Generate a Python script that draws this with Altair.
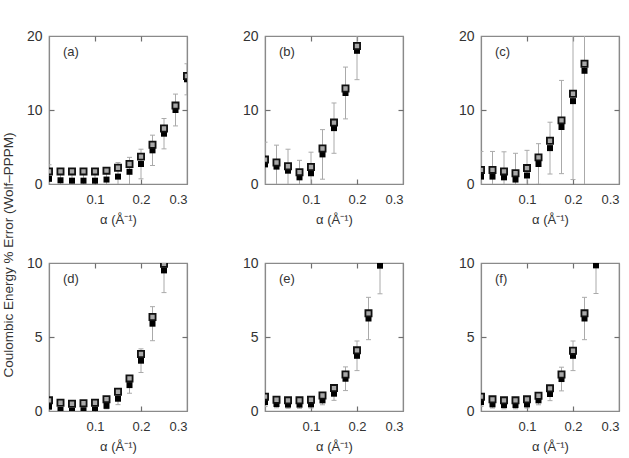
import altair as alt
import pandas as pd

FONT = "Liberation Sans"
TXT = "#333333"
FRAME = "#8a8a8a"

alpha_all = [0.0, 0.025, 0.05, 0.075, 0.1, 0.125, 0.15, 0.175, 0.2, 0.225, 0.25, 0.275, 0.3]

a_filled = [0.7, 0.5, 0.45, 0.45, 0.45, 0.6, 1.0, 1.65, 2.7, 4.55, 6.8, 10.0, 14.15]
a_open = [1.7, 1.7, 1.7, 1.7, 1.7, 1.8, 2.2, 2.7, 3.7, 5.3, 7.5, 10.6, 14.6]
a_err = [1.9, 1.2, 1.2, 1.2, 1.2, 1.3, 1.9, 1.95, 2.0, 2.05, 2.05, 2.15, 2.1]

b_filled = [2.65, 2.35, 1.8, 0.9, 1.45, 4.0, 7.55, 12.3, 18.0]
b_open = [3.3, 2.9, 2.4, 1.6, 2.3, 4.8, 8.3, 12.9, 18.65]
b_err = [3.0, 2.9, 2.9, 2.3, 2.85, 3.35, 3.4, 3.5, 3.9]

c_filled = [1.0, 1.0, 0.9, 0.6, 1.15, 2.7, 4.85, 7.7, 11.2, 15.3]
c_open = [1.9, 1.9, 1.7, 1.45, 2.15, 3.6, 5.85, 8.6, 12.2, 16.25]
c_err = [3.4, 3.4, 3.45, 3.55, 3.4, 2.75, 3.5, 6.3, 10.6, 16.0]

d_filled = [0.3, 0.07, 0.02, 0.05, 0.1, 0.35, 0.83, 1.75, 3.4, 5.9, 9.5]
d_open = [0.72, 0.56, 0.49, 0.52, 0.56, 0.8, 1.3, 2.2, 3.85, 6.35, 9.95]
d_err = [0.2, 0.15, 0.15, 0.15, 0.15, 0.2, 0.4, 0.55, 0.8, 1.15, 1.5]

e_filled = [0.6, 0.47, 0.43, 0.43, 0.45, 0.72, 1.17, 2.18, 3.73, 6.25, 9.82]
e_open = [0.97, 0.76, 0.72, 0.72, 0.76, 1.05, 1.55, 2.47, 4.1, 6.6, None]
e_err = [0.3, 0.25, 0.25, 0.25, 0.25, 0.3, 0.45, 0.8, 1.0, 1.43, 1.9]

f_filled = [0.6, 0.45, 0.4, 0.4, 0.45, 0.72, 1.15, 2.16, 3.73, 6.25, 9.84]
f_open = [0.97, 0.79, 0.72, 0.72, 0.79, 1.03, 1.53, 2.47, 4.07, 6.6, None]
f_err = [0.3, 0.25, 0.25, 0.25, 0.25, 0.3, 0.45, 0.8, 1.0, 1.43, 1.9]

x_tick_labels = [0.1, 0.2, 0.3]
x_inner_ticks = [0.1, 0.2]
top_y_ticks = [0, 10, 20]
bottom_y_ticks = [0, 5, 10]

W, H = 138, 148


def panel(label, filled, opened, err, ymax, yticks):
    n = len(filled)
    df = pd.DataFrame({
        "alpha": alpha_all[:n],
        "filled": filled,
        "open": opened,
        "lo": [f - e for f, e in zip(filled, err)],
        "hi": [f + e for f, e in zip(filled, err)],
    })
    xs = alt.Scale(domain=[0, 0.3], nice=False, zero=False)
    ys = alt.Scale(domain=[0, ymax], nice=False, zero=False)
    mid = [t for t in yticks if 0 < t < ymax]

    main_x = alt.Axis(values=x_tick_labels, format=".1f", tickSize=0, ticks=False,
                      domain=True, domainColor=FRAME, domainWidth=1.2, grid=False,
                      labelPadding=9, title="α (Å⁻¹)", titleFont=FONT, titleFontSize=13,
                      titleFontWeight="normal", titleColor=TXT, titlePadding=7,
                      labelFont=FONT, labelFontSize=13, labelColor=TXT)
    main_y = alt.Axis(values=yticks, format="d", tickSize=0, ticks=False,
                      domain=True, domainColor=FRAME, domainWidth=1.2, grid=False,
                      labelPadding=7, title=None, labelFont=FONT, labelFontSize=14, labelColor=TXT)

    def frame_axis(orient):
        return alt.Axis(orient=orient, domain=True, domainColor=FRAME, domainWidth=1.2,
                        ticks=False, labels=False, grid=False, title=None)

    def tick_axis(orient, vals):
        return alt.Axis(orient=orient, offset=-5, tickSize=5, values=vals, labels=False,
                        domain=False, grid=False, title=None, tickColor="#6f6f6f", tickWidth=1.2)

    bars = alt.Chart(df).mark_rule(color="#aaaaaa", strokeWidth=1, clip=True).encode(
        x=alt.X("alpha:Q", scale=xs, axis=main_x),
        y=alt.Y("lo:Q", scale=ys, axis=main_y),
        y2="hi:Q",
    )
    cap_lo = alt.Chart(df).mark_tick(orient="horizontal", size=5, thickness=1, color="#aaaaaa",
                                     clip=True, opacity=1).encode(
        x=alt.X("alpha:Q", scale=xs, axis=frame_axis("top")),
        y=alt.Y("lo:Q", scale=ys, axis=frame_axis("right")),
    )
    cap_hi = alt.Chart(df).mark_tick(orient="horizontal", size=5, thickness=1, color="#aaaaaa",
                                     clip=True, opacity=1).encode(
        x=alt.X("alpha:Q", scale=xs, axis=None),
        y=alt.Y("hi:Q", scale=ys, axis=None),
    )
    fpts = alt.Chart(df).mark_square(size=36, color="black", opacity=1, clip=True).encode(
        x=alt.X("alpha:Q", scale=xs, axis=tick_axis("bottom", x_inner_ticks)),
        y=alt.Y("filled:Q", scale=ys, axis=tick_axis("left", mid)),
    )
    opts = alt.Chart(df).transform_filter("isValid(datum.open)").mark_square(
        size=38, fill="#a8a8a8", stroke="#111111", strokeWidth=1.8, opacity=1, clip=True).encode(
        x=alt.X("alpha:Q", scale=xs, axis=tick_axis("top", x_inner_ticks)),
        y=alt.Y("open:Q", scale=ys, axis=tick_axis("right", mid)),
    )
    lab = alt.Chart(pd.DataFrame({"t": [label]})).mark_text(
        align="left", baseline="middle", font=FONT, fontSize=13, color=TXT).encode(
        x=alt.value(14), y=alt.value(16), text="t:N")

    return alt.layer(bars, cap_lo, cap_hi, fpts, opts, lab).resolve_scale(
        x="independent", y="independent").resolve_axis(
        x="independent", y="independent").properties(width=W, height=H)


panels = [
    panel("(a)", a_filled, a_open, a_err, 20, top_y_ticks),
    panel("(b)", b_filled, b_open, b_err, 20, top_y_ticks),
    panel("(c)", c_filled, c_open, c_err, 20, top_y_ticks),
    panel("(d)", d_filled, d_open, d_err, 10, bottom_y_ticks),
    panel("(e)", e_filled, e_open, e_err, 10, bottom_y_ticks),
    panel("(f)", f_filled, f_open, f_err, 10, bottom_y_ticks),
]

chart = alt.concat(*panels, columns=3, spacing={"column": 78, "row": 79}, bounds="flush").properties(
    title=alt.TitleParams(text="Coulombic Energy % Error (Wolf–PPPM)", orient="left", anchor="middle",
                          font=FONT, fontSize=13.5, fontWeight="normal", color=TXT, offset=10, dx=-14),
    padding={"left": 2, "top": 28, "right": 5, "bottom": 5},
    background="white",
).configure_view(stroke=FRAME, strokeWidth=1.2)

chart.save("out.html", embed_options={"renderer": "svg", "actions": False})
